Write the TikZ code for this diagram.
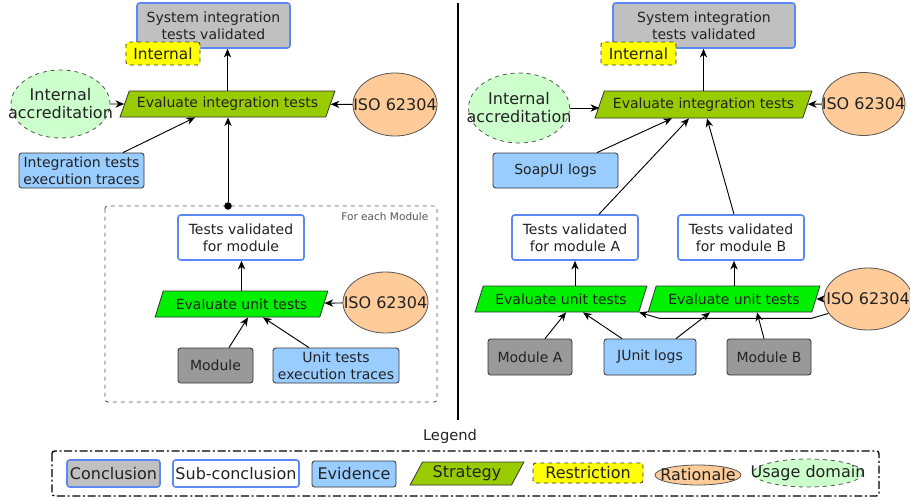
\documentclass[tikz,border=0pt]{standalone}
\usepackage{fontspec}
\setmainfont{DejaVu Sans}
\usetikzlibrary{calc,arrows.meta,shapes.geometric}
\definecolor{txt}{HTML}{222222}
\definecolor{edge}{HTML}{333333}
\definecolor{muted}{HTML}{555555}
\definecolor{concbg}{HTML}{C0C0C0}
\definecolor{concline}{HTML}{5B88F5}
\definecolor{evidbg}{HTML}{99CCFF}
\definecolor{stratbg}{HTML}{99CC00}
\definecolor{unitbg}{HTML}{00F000}
\definecolor{restrbg}{HTML}{FFFF00}
\definecolor{ratbg}{HTML}{FFCC99}
\definecolor{usagebg}{HTML}{CCFFCC}
\definecolor{modbg}{HTML}{999999}
\tikzset{
  sz/.style 2 args={minimum width=#1*0.75pt, minimum height=#2*0.75pt},
  box/.style={rectangle, rounded corners=2pt, inner sep=1pt, align=center, text=txt, font=\fontsize{10.5}{12.5}\selectfont},
  concl/.style={box, draw=concline, fill=concbg, line width=1.2pt},
  subc/.style={box, draw=concline, fill=white, line width=1.2pt},
  evid/.style={box, draw=edge, fill=evidbg, line width=0.6pt},
  modbox/.style={box, draw=edge, fill=modbg, line width=0.6pt},
  restr/.style={box, draw=edge, fill=restrbg, dashed, line width=0.6pt, font=\fontsize{11.5}{13}\selectfont},
  strat/.style={trapezium, trapezium left angle=58, trapezium right angle=122, trapezium stretches=true, draw=edge, fill=stratbg, line width=0.6pt, inner sep=0pt, text=txt, font=\fontsize{10.5}{12.5}\selectfont},
  unitst/.style={strat, fill=unitbg},
  rat/.style={ellipse, draw=muted, fill=ratbg, line width=0.6pt, inner sep=0pt},
  usage/.style={ellipse, draw=muted, fill=usagebg, dashed, line width=0.6pt, inner sep=0pt},
  lab/.style={text=txt, align=center, font=\fontsize{12}{13.5}\selectfont},
  arr/.style={draw=black, line width=0.7pt, -{Stealth[length=6.5pt,width=5.5pt,inset=2pt]}},
  dot/.style={circle, fill=black, inner sep=2pt},
  group/.style={draw=muted, dashed, rounded corners=2pt, line width=0.7pt},
  legbox/.style={draw=black, rounded corners=2pt, line width=1pt, dash pattern=on 6pt off 2pt on 1.5pt off 2pt},
  note/.style={text=muted, font=\fontsize{7.9}{9}\selectfont},
  leg/.style={font=\fontsize{12}{14}\selectfont},
}
\begin{document}
\begin{tikzpicture}[x=0.75pt, y=-0.75pt]
  \useasboundingbox (0,0) rectangle (910,500);
  \node[concl, sz={153}{45}] (conclL) at (213.5,25.5) {System integration\\tests validated};
  \node[restr, sz={74}{23}] (restrL) at (163,53.5) {Internal};
  \node[strat, sz={215}{26}] (stratL) at (227.5,104) {Evaluate integration tests};
  \node[usage, sz={99}{68}, label={[lab]center:Internal\\accreditation}] (usageL) at (60.5,104) {};
  \node[rat, sz={84}{63}, label={[lab]center:ISO 62304}] (isoL) at (395,104.5) {};
  \node[evid, sz={125}{35}] (evidL) at (81.5,170.5) {Integration tests\\execution traces};
  \draw[group] (105,206) rectangle (437,402);
  \node[note, anchor=east] (eachlab) at (433,217) {For each Module};
  \node[dot] (each) at (228,206) {};
  \node[subc, sz={126}{45}] (subL) at (241,237.5) {Tests validated\\for module};
  \node[unitst, sz={173}{26}] (unitL) at (241.5,304) {Evaluate unit tests};
  \node[rat, sz={85}{61}, label={[lab]center:ISO 62304}] (iso2L) at (385.5,302.5) {};
  \node[modbox, sz={75}{35}] (modL) at (215.5,365.5) {Module};
  \node[evid, sz={126}{35}] (unitevL) at (336,365.5) {Unit tests\\execution traces};
  \draw[arr] (stratL.north) -- (stratL.north |- conclL.south);
  \draw[arr] (usageL) -- (stratL);
  \draw[arr] (isoL) -- (stratL);
  \draw[arr] ($(evidL.north)+(41.5,0)$) -- ($(stratL.south)+(-32.5,0)$);
  \draw[arr] (each) -- (each |- stratL.south);
  \draw[arr] (unitL.north) -- (unitL.north |- subL.south);
  \draw[arr] (iso2L) -- (unitL);
  \draw[arr] ($(modL.north)+(13.5,0)$) -- ($(unitL.south)+(6.5,0)$);
  \draw[arr] ($(unitevL.north)+(-27,0)$) -- ($(unitL.south)+(21.5,0)$);

  \draw[line width=1pt] (458,3) -- (458,420);

  \node[concl, sz={182}{45}] (conclR) at (704,25.5) {System integration\\tests validated};
  \node[restr, sz={75}{23}] (restrR) at (638.5,53.5) {Internal};
  \node[strat, sz={217}{27}] (stratR) at (703.5,104.5) {Evaluate integration tests};
  \node[usage, sz={101}{70}, label={[lab]center:Internal\\accreditation}] (usageR) at (519,108) {};
  \node[rat, sz={83}{63}, label={[lab]center:ISO 62304}] (isoR) at (863.5,104) {};
  \node[evid, sz={125}{35}] (soapR) at (555.5,170.5) {SoapUI logs};
  \node[subc, sz={126}{45}] (subA) at (575,237.5) {Tests validated\\for module A};
  \node[subc, sz={126}{45}] (subB) at (741,237.5) {Tests validated\\for module B};
  \node[unitst, sz={172}{26}] (unitA) at (561,299) {Evaluate unit tests};
  \node[unitst, sz={172}{26}] (unitB) at (734,299) {Evaluate unit tests};
  \node[rat, sz={88}{62}, label={[lab]center:ISO 62304}] (iso2R) at (868,299) {};
  \node[modbox, sz={84}{36}] (modA) at (530,357) {Module A};
  \node[evid, sz={92}{36}] (junit) at (650,357) {JUnit logs};
  \node[modbox, sz={84}{36}] (modB) at (769,357) {Module B};
  \draw[arr] (stratR.north) -- (stratR.north |- conclR.south);
  \draw[arr] (usageR.east) -- (usageR.east -| stratR.west);
  \draw[arr] (isoR) -- (stratR);
  \draw[arr] ($(soapR.north)+(41.5,0)$) -- ($(stratR.south)+(-31.5,0)$);
  \draw[arr] ($(subA.north)+(24,0)$) -- ($(stratR.south)+(-14.5,0)$);
  \draw[arr] ($(subB.north)+(-7,0)$) -- ($(stratR.south)+(3.5,0)$);
  \draw[arr] (unitA.north -| subA.south) -- (subA.south);
  \draw[arr] (unitB.north) -- (unitB.north |- subB.south);
  \draw[arr] (iso2R) -- (unitB);
  \draw[arr] (iso2R.200) -- ++(-17,5) -- ++(-152,0) -- (unitA.bottom right corner);
  \draw[arr] ($(modA.north)+(15,0)$) -- ($(unitA.south)+(5,0)$);
  \draw[arr] ($(junit.north)+(-28,0)$) -- ($(unitA.south)+(22,0)$);
  \draw[arr] ($(junit.north)+(26,0)$) -- ($(unitB.south)+(-24,0)$);
  \draw[arr] ($(modB.north)+(-5,0)$) -- ($(unitB.south)+(23,0)$);

  \node[text=txt, font=\fontsize{11}{13}\selectfont] (legtitle) at (450,436) {Legend};
  \draw[legbox] (52,451) rectangle (879,496);
  \node[concl, leg, sz={93}{27}] (legConc) at (113.5,473.5) {Conclusion};
  \node[subc, leg, sz={126}{27}] (legSub) at (236,473.5) {Sub-conclusion};
  \node[evid, leg, sz={84}{26}] (legEvid) at (354,474) {Evidence};
  \node[strat, leg, sz={114}{23}] (legStrat) at (467,473.5) {Strategy};
  \node[restr, leg, sz={110}{20}] (legRestr) at (588,473) {Restriction};
  \node[rat, sz={86}{20}, label={[lab]center:Rationale}] (legRat) at (698,475) {};
  \node[usage, sz={110}{28}, label={[lab]center:Usage domain}] (legUsage) at (808,473) {};
\end{tikzpicture}
\end{document}
